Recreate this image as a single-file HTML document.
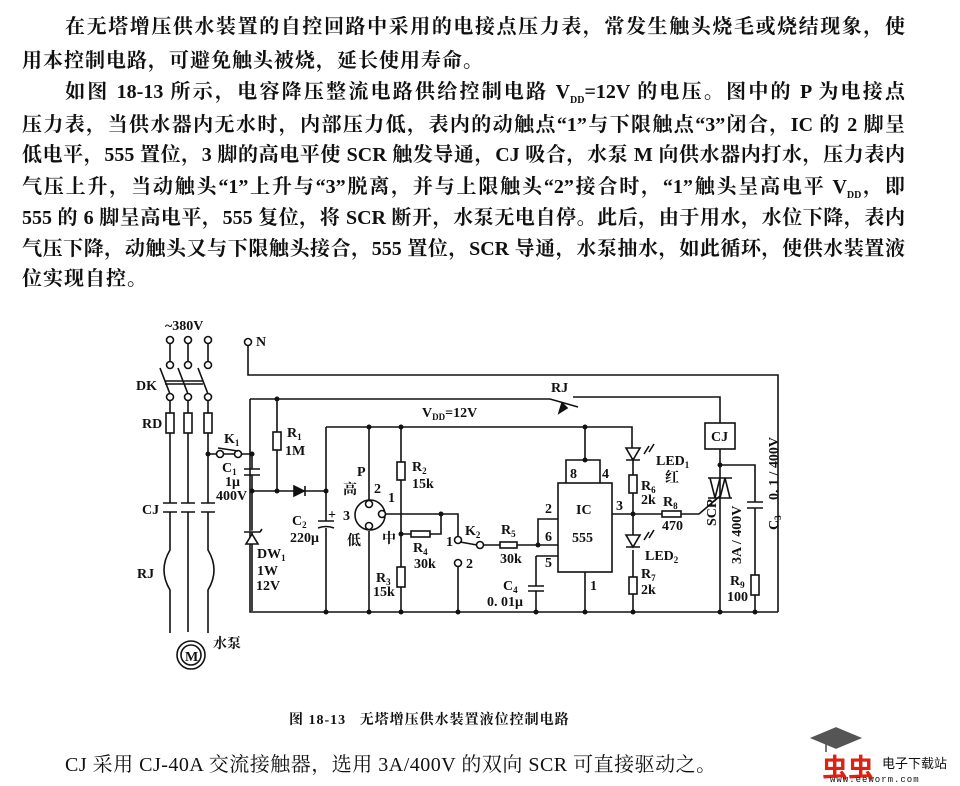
<!DOCTYPE html>
<html><head><meta charset="utf-8"><style>
body{margin:0;background:#fff;width:960px;height:786px;overflow:hidden;position:relative;font-family:"Liberation Serif","Noto Serif CJK SC",serif;color:#111}
.l{position:absolute;left:22px;width:883px;font-size:20px;font-weight:bold;height:26px;line-height:26px;text-align:justify;text-align-last:justify;white-space:nowrap;font-family:"Liberation Serif","Noto Serif CJK SC",serif}
.i{left:65px;width:840px}
svg{position:absolute;left:0;top:0}
svg text{font-family:"Liberation Serif","Noto Serif CJK SC",serif;font-weight:bold;font-size:14px;fill:#111}
</style></head><body>
<div class="l i" style="top:14px">在无塔增压供水装置的自控回路中采用的电接点压力表，常发生触头烧毛或烧结现象，使</div>
<div class="l" style="top:48px;width:auto;text-align-last:auto;letter-spacing:1px">用本控制电路，可避免触头被烧，延长使用寿命。</div>
<div class="l i" style="top:79px">如图 18-13 所示，电容降压整流电路供给控制电路 V<sub style="font-size:10px">DD</sub>=12V 的电压。图中的 P 为电接点</div>
<div class="l" style="top:112px">压力表，当供水器内无水时，内部压力低，表内的动触点“1”与下限触点“3”闭合，IC 的 2 脚呈</div>
<div class="l" style="top:142px">低电平，555 置位，3 脚的高电平使 SCR 触发导通，CJ 吸合，水泵 M 向供水器内打水，压力表内</div>
<div class="l" style="top:174px">气压上升，当动触头“1”上升与“3”脱离，并与上限触头“2”接合时，“1”触头呈高电平 V<sub style="font-size:10px">DD</sub>，即</div>
<div class="l" style="top:205px">555 的 6 脚呈高电平，555 复位，将 SCR 断开，水泵无电自停。此后，由于用水，水位下降，表内</div>
<div class="l" style="top:236px">气压下降，动触头又与下限触头接合，555 置位，SCR 导通，水泵抽水，如此循环，使供水装置液</div>
<div class="l" style="top:266px;width:auto;text-align-last:auto;letter-spacing:1px">位实现自控。</div>
<div style="position:absolute;left:289px;top:709px;font-size:14px;font-weight:bold;white-space:nowrap;letter-spacing:1px">图 18-13 &nbsp;&nbsp;无塔增压供水装置液位控制电路</div>
<div style="position:absolute;left:65px;top:748px;font-size:20px;white-space:nowrap;letter-spacing:0.5px">CJ 采用 CJ-40A 交流接触器，选用 3A/400V 的双向 SCR 可直接驱动之。</div>
<div style="position:absolute;left:822px;top:748px;font-size:26px;font-weight:bold;color:#d21;font-family:'Noto Sans CJK SC',sans-serif">虫虫</div>
<div style="position:absolute;left:882px;top:753px;font-size:13px;font-family:'Noto Sans CJK SC',sans-serif">电子下载站</div>
<div style="position:absolute;left:830px;top:775px;font-size:9px;letter-spacing:1px;font-family:'Liberation Mono',monospace">www.eeworm.com</div>
<svg width="960" height="786" viewBox="0 0 960 786" stroke="#111" stroke-width="1.6" fill="none">
<path d="M812 738 l24 -10 l24 10 l-24 10z M826 744 v8" fill="#555" stroke="#555"/>
<!-- 3 phase -->
<text x="165" y="330" stroke="none">~380V</text>
<g fill="#fff">
<circle cx="170" cy="340" r="3.5"/><circle cx="188" cy="340" r="3.5"/><circle cx="208" cy="340" r="3.5"/>
<circle cx="170" cy="365" r="3.5"/><circle cx="188" cy="365" r="3.5"/><circle cx="208" cy="365" r="3.5"/>
<circle cx="170" cy="397" r="3.5"/><circle cx="188" cy="397" r="3.5"/><circle cx="208" cy="397" r="3.5"/>
<circle cx="248" cy="342" r="3.5"/>
</g>
<path d="M170 344v17M188 344v17M208 344v17"/>
<path d="M160 368l10 26M178 368l10 26M198 368l10 26M165 381h38M165 384h38"/>
<text x="136" y="390" stroke="none">DK</text>
<text x="256" y="346" stroke="none">N</text>
<path d="M170 401v102M188 401v102M208 401v102"/>
<rect x="166" y="413" width="8" height="20" fill="#fff"/><rect x="184" y="413" width="8" height="20" fill="#fff"/><rect x="204" y="413" width="8" height="20" fill="#fff"/>
<text x="142" y="428" stroke="none">RD</text>
<path d="M163 503h14M181 503h14M201 503h14M163 512h14M181 512h14M201 512h14"/>
<text x="142" y="514" stroke="none">CJ</text>
<path d="M170 512v38q-12 20 0 40v43M188 512v120M208 512v38q12 20 0 40v43"/>
<text x="137" y="578" stroke="none">RJ</text>
<circle cx="191" cy="655" r="14"/><circle cx="191" cy="655" r="10"/>
<text x="185" y="661" stroke="none" font-size="13">M</text>
<text x="213" y="648" stroke="none">水泵</text>
<!-- N line -->
<path d="M248 346v29h530v237"/>
<!-- K1 -->
<path d="M208 454h8M224 454h10M242 454h10"/>
<circle cx="220" cy="454" r="3.5" fill="#fff"/><circle cx="238" cy="454" r="3.5" fill="#fff"/>
<path d="M218 448l20 3"/>
<text x="224" y="443" stroke="none">K<tspan font-size="9" dy="3">1</tspan></text>
<!-- left box -->
<path d="M250 399h300l28 8M573 397h147v26M250 399v213h528"/>
<path d="M252 454v15M244 469h16M244 475h16M252 475v16"/>
<text x="222" y="472" stroke="none">C<tspan font-size="9" dy="3">1</tspan></text>
<text x="225" y="486" stroke="none" font-size="11">1μ</text>
<text x="216" y="500" stroke="none">400V</text>
<path d="M277 399v33M277 450v41"/><rect x="273" y="432" width="8" height="18" fill="#fff"/>
<text x="287" y="437" stroke="none">R<tspan font-size="9" dy="3">1</tspan></text><text x="285" y="455" stroke="none">1M</text>
<path d="M252 491h74"/><path d="M294 486v10l10-5z M305 486v10" fill="#111"/>
<!-- zener -->
<path d="M252 491v120"/><path d="M246 544h12l-6-10z M244 532h16l2-3" fill="#fff"/>
<text x="257" y="558" stroke="none">DW<tspan font-size="9" dy="3">1</tspan></text>
<text x="257" y="575" stroke="none">1W</text><text x="256" y="590" stroke="none">12V</text>
<!-- C2 -->
<path d="M326 427v94M326 528v84M318 521h16M318 528q8-3 16 0"/>
<text x="328" y="519" stroke="none" font-size="11">+</text>
<text x="292" y="525" stroke="none">C<tspan font-size="9" dy="3">2</tspan></text>
<text x="290" y="542" stroke="none">220μ</text>
<!-- VDD line -->
<path d="M326 427h306v21M585 427v33"/>
<text x="422" y="417" stroke="none">V<tspan font-size="9" dy="3">DD</tspan><tspan dy="-3">=12V</tspan></text>
<text x="551" y="392" stroke="none">RJ</text>
<path d="M562 403l-3 10l8-5z" fill="#111"/>
<!-- P gauge -->
<circle cx="370" cy="515" r="15"/>
<path d="M369 427v74M369 531v81"/>
<circle cx="369" cy="504" r="3.5" fill="#fff"/><circle cx="382" cy="514" r="3.5" fill="#fff"/><circle cx="369" cy="526" r="3.5" fill="#fff"/>
<text x="357" y="476" stroke="none">P</text><text x="343" y="494" stroke="none">高</text>
<text x="374" y="493" stroke="none">2</text><text x="388" y="502" stroke="none">1</text><text x="343" y="520" stroke="none">3</text>
<text x="347" y="545" stroke="none">低</text><text x="382" y="543" stroke="none">中</text>
<path d="M386 514h72v22M401 427v35M401 480v87M401 587v25"/>
<rect x="397" y="462" width="8" height="18" fill="#fff"/><rect x="397" y="567" width="8" height="20" fill="#fff"/>
<text x="412" y="471" stroke="none">R<tspan font-size="9" dy="3">2</tspan></text><text x="412" y="488" stroke="none">15k</text>
<text x="376" y="582" stroke="none">R<tspan font-size="9" dy="3">3</tspan></text><text x="373" y="596" stroke="none">15k</text>
<path d="M401 534h10M430 534h11v-20"/><rect x="411" y="531" width="19" height="6" fill="#fff"/>
<text x="413" y="552" stroke="none">R<tspan font-size="9" dy="3">4</tspan></text><text x="414" y="568" stroke="none">30k</text>
<!-- K2 -->
<circle cx="458" cy="540" r="3.5" fill="#fff"/><circle cx="480" cy="545" r="3.5" fill="#fff"/><circle cx="458" cy="563" r="3.5" fill="#fff"/>
<path d="M460 542l17 3M458 567v45"/>
<text x="446" y="546" stroke="none">1</text><text x="466" y="568" stroke="none">2</text>
<text x="465" y="535" stroke="none">K<tspan font-size="9" dy="3">2</tspan></text>
<path d="M484 545h16M517 545h41"/><rect x="500" y="542" width="17" height="6" fill="#fff"/>
<text x="501" y="534" stroke="none">R<tspan font-size="9" dy="3">5</tspan></text><text x="500" y="563" stroke="none">30k</text>
<path d="M538 545v-26h20M536 556h22M536 556v30M528 586h16M528 591h16M536 591v21"/>
<text x="503" y="590" stroke="none">C<tspan font-size="9" dy="3">4</tspan></text>
<text x="487" y="606" stroke="none" font-size="12">0. 01μ</text>
<!-- IC -->
<rect x="558" y="483" width="54" height="89" fill="#fff"/>
<path d="M566 483v-23h34v23M585 572v40"/>
<text x="570" y="478" stroke="none">8</text><text x="602" y="478" stroke="none">4</text>
<text x="576" y="514" stroke="none">IC</text><text x="572" y="542" stroke="none">555</text>
<text x="545" y="513" stroke="none">2</text><text x="545" y="541" stroke="none">6</text><text x="545" y="567" stroke="none">5</text>
<text x="590" y="590" stroke="none">1</text><text x="616" y="510" stroke="none">3</text>
<path d="M612 514h50M681 514h18l21-18"/><rect x="662" y="511" width="19" height="6" fill="#fff"/>
<text x="663" y="506" stroke="none">R<tspan font-size="9" dy="3">8</tspan></text><text x="662" y="530" stroke="none">470</text>
<path d="M633 448v27M633 493v42M633 550v27M633 594v18"/>
<path d="M626 448h14l-7 12z M626 460h14 M626 535h14l-7 12z M626 547h14" fill="#fff"/>
<path d="M644 454l5-8M649 452l5-8M644 540l5-8M649 538l5-8"/>
<rect x="629" y="475" width="8" height="18" fill="#fff"/><rect x="629" y="577" width="8" height="17" fill="#fff"/>
<text x="656" y="465" stroke="none">LED<tspan font-size="9" dy="3">1</tspan></text><text x="665" y="482" stroke="none">红</text>
<text x="641" y="490" stroke="none">R<tspan font-size="9" dy="3">6</tspan></text><text x="641" y="504" stroke="none">2k</text>
<text x="645" y="560" stroke="none">LED<tspan font-size="9" dy="3">2</tspan></text>
<text x="641" y="578" stroke="none">R<tspan font-size="9" dy="3">7</tspan></text><text x="641" y="594" stroke="none">2k</text>
<!-- CJ / triac -->
<rect x="705" y="423" width="30" height="26" fill="#fff"/><text x="711" y="441" stroke="none">CJ</text>
<path d="M720 449v163M720 465h35v37M755 508v67M755 595v17M747 502h16M747 508h16"/>
<path d="M708 478h24M708 498h24M710 478l5 20 5-20M720 498l5-20 5 20"/>
<rect x="751" y="575" width="8" height="20" fill="#fff"/>
<text x="730" y="585" stroke="none">R<tspan font-size="9" dy="3">9</tspan></text><text x="727" y="601" stroke="none">100</text>
<text transform="translate(716,526) rotate(-90)" stroke="none">SCR</text>
<text transform="translate(741,564) rotate(-90)" stroke="none" font-weight="normal">3A / 400V</text>
<text transform="translate(778,500) rotate(-90)" stroke="none" font-weight="normal">0. 1 / 400V</text>
<text transform="translate(778,530) rotate(-90)" stroke="none">C<tspan font-size="9" dy="3">3</tspan></text>
<!-- dots -->
<g fill="#111" stroke="none">
<circle cx="208" cy="454" r="2.5"/><circle cx="252" cy="454" r="2.5"/><circle cx="277" cy="399" r="2.5"/><circle cx="252" cy="491" r="2.5"/><circle cx="277" cy="491" r="2.5"/><circle cx="326" cy="491" r="2.5"/>
<circle cx="369" cy="427" r="2.5"/><circle cx="401" cy="427" r="2.5"/><circle cx="401" cy="534" r="2.5"/><circle cx="441" cy="514" r="2.5"/><circle cx="538" cy="545" r="2.5"/><circle cx="585" cy="460" r="2.5"/><circle cx="585" cy="427" r="2.5"/><circle cx="633" cy="514" r="2.5"/><circle cx="720" cy="465" r="2.5"/>
<circle cx="326" cy="612" r="2.5"/><circle cx="369" cy="612" r="2.5"/><circle cx="401" cy="612" r="2.5"/><circle cx="458" cy="612" r="2.5"/><circle cx="536" cy="612" r="2.5"/><circle cx="585" cy="612" r="2.5"/><circle cx="633" cy="612" r="2.5"/><circle cx="720" cy="612" r="2.5"/><circle cx="755" cy="612" r="2.5"/>
</g>
</svg>
</body></html>
